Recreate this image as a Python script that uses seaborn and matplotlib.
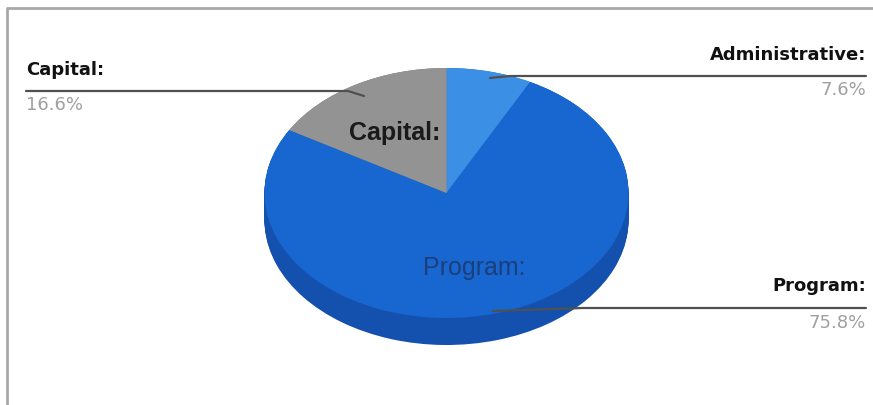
import matplotlib
matplotlib.use("Agg")
import matplotlib.pyplot as plt
import seaborn as sns
import numpy as np

sns.set_theme(style="white")

# ---- data ----
categories = ["Administrative", "Program", "Capital"]
shares = [7.6, 75.8, 16.6]
pct_labels = ["7.6%", "75.8%", "16.6%"]
top_colors = ["#3b8fe4", "#1866cf", "#939393"]
side_colors = ["#2a6fc0", "#1450ad", "#767676"]

W, H = 873, 405
fig = plt.figure(figsize=(W / 100, H / 100), dpi=100)
fig.patch.set_facecolor("white")

# pie axes: ellipse with rx=182 px, ry=125 px, centre at (446.5, 193) px from top
cx, cy, rx, ry = 446.5, 193.0, 182.0, 125.0
top_px, bot_px = 55, 360
pax = fig.add_axes([(cx - rx) / W, (H - bot_px) / H, 2 * rx / W, (bot_px - top_px) / H])
depth = 27.0 / ry
nlayers = 30
for k in np.linspace(depth, 0, nlayers):
    pax.pie(shares, colors=side_colors, startangle=90, counterclock=False,
            center=(0, -k), radius=1.0, wedgeprops=dict(linewidth=0, edgecolor="none"),
            frame=False)
pax.pie(shares, colors=top_colors, startangle=90, counterclock=False,
        center=(0, 0), radius=1.0, wedgeprops=dict(linewidth=0, edgecolor="none"),
        frame=False)
pax.set_aspect("auto")
pax.set_xlim(-1, 1)
pax.set_ylim(-(bot_px - cy) / ry, (cy - top_px) / ry)
pax.axis("off")

# overlay axes in pixel coordinates for labels and frame
oax = fig.add_axes([0, 0, 1, 1], facecolor="none")
oax.set_xlim(0, W)
oax.set_ylim(H, 0)
oax.axis("off")

# frame lines
oax.plot([7, 7], [8, H], color="#a8a8a8", lw=2, solid_capstyle="butt")
oax.plot([6, W], [8, 8], color="#a8a8a8", lw=2, solid_capstyle="butt")

lab_font = "DejaVu Sans"
pct_color = "#a0a0a0"
line_color = "#505050"
fs_lab = 13
fs_pct = 13

# Capital (left)
oax.plot([26, 348, 364], [91, 91, 96], color=line_color, lw=1.6)
oax.text(26, 70, categories[2] + ":", ha="left", va="center", fontsize=fs_lab,
         fontweight="bold", family=lab_font, color="#111111")
oax.text(26, 105, pct_labels[2], ha="left", va="center", fontsize=fs_pct,
         family=lab_font, color=pct_color)

# Administrative (right top)
oax.plot([866, 510, 490], [76, 76, 78], color=line_color, lw=1.6)
oax.text(866, 55, categories[0] + ":", ha="right", va="center", fontsize=fs_lab,
         fontweight="bold", family=lab_font, color="#111111")
oax.text(866, 90, pct_labels[0], ha="right", va="center", fontsize=fs_pct,
         family=lab_font, color=pct_color)

# Program (right bottom)
oax.plot([866, 583, 493], [308, 308, 311], color=line_color, lw=1.6)
oax.text(866, 286, categories[1] + ":", ha="right", va="center", fontsize=fs_lab,
         fontweight="bold", family=lab_font, color="#111111")
oax.text(866, 323, pct_labels[1], ha="right", va="center", fontsize=fs_pct,
         family=lab_font, color=pct_color)

# inner labels
oax.text(395, 133, "Capital:", ha="center", va="center", fontsize=18,
         fontweight="bold", family="Liberation Sans", color="#1a1a1a")
oax.text(474, 268, "Program:", ha="center", va="center", fontsize=18,
         family="Liberation Sans", color="#1c3f7c")

fig.savefig("out.png", dpi=100, facecolor="white")
